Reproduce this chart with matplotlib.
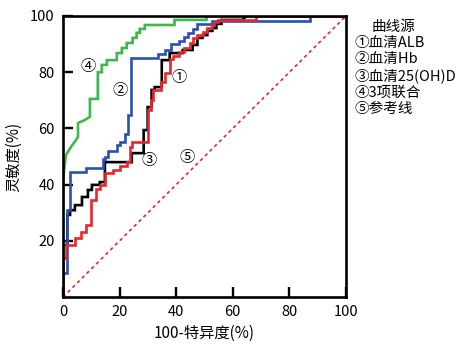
import matplotlib
import matplotlib.pyplot as plt

matplotlib.use('Agg')

plt.rcParams['font.family'] = ['Noto Sans CJK SC', 'DejaVu Sans']

# ROC staircase vertices (100-specificity, sensitivity)
alb_x = [0, 0, 1.5, 1.5, 2.5, 2.5, 4.2, 4.2, 6.7, 6.7, 8.8, 8.8, 10.2, 10.2, 13, 13, 14.8, 14.8,
         24.3, 24.3, 28.5, 28.5, 29.9, 29.9, 31.3, 31.3, 32.4, 32.4, 34.9, 34.9, 37.7, 37.7,
         42.3, 42.3, 45.8, 45.8, 47.5, 47.5, 49.3, 49.3, 51, 51, 52.8, 52.8, 54.2, 54.2, 56, 56,
         63.4, 64.8, 100]
alb_y = [0, 18.5, 18.5, 29.2, 29.2, 30.9, 30.9, 32.7, 32.7, 35.6, 35.6, 38.1, 38.1, 39.9, 39.9,
         40.9, 40.9, 48, 48, 51.2, 51.2, 59.4, 59.4, 67.6, 67.6, 73.7, 73.7, 74.7, 74.7, 84.3,
         84.3, 86.8, 86.8, 87.9, 87.9, 89.7, 89.7, 92.2, 92.2, 93.2, 93.2, 94.7, 94.7, 95.7,
         95.7, 97.2, 97.2, 98.6, 98.6, 100, 100]

hb_x = [0, 0, 1.4, 1.4, 2.5, 2.5, 8, 8, 14, 14, 15, 15, 16, 16, 19, 19, 20, 20, 22, 22, 22.8,
        22.8, 24, 24, 33.5, 33.5, 36, 36, 38, 38, 41, 41, 42.6, 42.6, 44, 44, 46, 46, 47.5, 47.5,
        52.5, 52.5, 87.3, 87.3, 100]
hb_y = [0, 8.5, 8.5, 31, 31, 44.5, 44.5, 46, 46, 49, 49, 50, 50, 52, 52, 54, 54, 55, 55, 58, 58,
        64.8, 64.8, 85, 85, 86.5, 86.5, 88, 88, 90, 90, 91, 91, 92.5, 92.5, 94, 94, 95.5, 95.5,
        97, 97, 98.2, 98.2, 100, 100]

vd_x = [0, 0, 1, 1, 4.2, 4.2, 6.3, 6.3, 8, 8, 9.9, 9.9, 11.6, 11.6, 13, 13, 14.8, 14.8, 17.6,
        17.6, 20, 20, 22.5, 22.5, 23.6, 23.6, 24.3, 24.3, 29.9, 29.9, 31, 31, 31.7, 31.7, 34.5,
        34.5, 36, 36, 37.7, 37.7, 38.7, 38.7, 41, 41, 42.9, 42.9, 44.7, 44.7, 45.8, 45.8, 47.5,
        47.5, 49.3, 49.3, 51, 51, 52.5, 52.5, 53.5, 53.5, 54.6, 54.6, 68.3, 68.3, 100]
vd_y = [0, 14, 14, 18.5, 18.5, 21, 21, 23, 23, 25.6, 25.6, 34.5, 34.5, 38.4, 38.4,
        39.9, 39.9, 44.1, 44.1, 45.2, 45.2, 46.6, 46.6, 48, 48, 53.4, 53.4, 55.2, 55.2, 66.5,
        66.5, 70.1, 70.1, 73.7, 73.7, 76.5, 76.5, 79.7, 79.7, 84.7, 84.7, 85.8, 85.8, 87.2,
        87.2, 88.6, 88.6, 90.4, 90.4, 92.2, 92.2, 93.2, 93.2, 94.3, 94.3, 95.7, 95.7, 96.8,
        96.8, 97.9, 97.9, 98.6, 98.6, 100, 100]

comb_x = [0, 0, 1, 2.8, 4.6, 5.3, 5.3, 7.7, 9.5, 9.5, 12.3, 12.3, 13.7, 13.7, 15.5, 15.5, 19, 19,
          20.8, 20.8, 22.5, 22.5, 24.6, 24.6, 26, 26, 27.1, 27.1, 28.9, 28.9, 39.4, 39.4, 50.7,
          50.7, 100]
comb_y = [0, 41.6, 50.5, 53.4, 55.9, 57, 61.9, 63, 64.1, 70.5, 70.5, 80, 80, 82.6, 82.6, 84.3,
          84.3, 86.8, 86.8, 88.6, 88.6, 90.4, 90.4, 92.2, 92.2, 94, 94, 95.4, 95.4, 96.8, 96.8,
          98.6, 98.6, 100, 100]

ticks = [0, 20, 40, 60, 80, 100]
legend_lines = ['①血清ALB', '②血清Hb', '③血清25(OH)D', '④3项联合', '⑤参考线']

red = '#e8262b'

fig = plt.figure(figsize=(4.61, 3.44), dpi=100)
ax = fig.add_axes([0.1367, 0.1366, 0.6138, 0.8169])

ax.plot(alb_x, alb_y, color='black', lw=1.9, solid_joinstyle='miter')
ax.plot(hb_x, hb_y, color='#2b4fb5', lw=1.9, solid_joinstyle='miter')
ax.plot(comb_x, comb_y, color='#3db84a', lw=1.9, solid_joinstyle='miter')
ax.plot(vd_x, vd_y, color=red, lw=1.9, solid_joinstyle='miter')
ax.plot([0, 100], [0, 100], color=red, lw=1.2, ls=(0, (2, 2)))

# curve labels
for txt, x, y in [('④', 9, 82), ('②', 20, 73.5), ('①', 41, 78), ('③', 30.6, 48.5), ('⑤', 44, 49.5)]:
    ax.text(x, y, txt, fontsize=11, ha='center', va='center')

ax.set_xlim(0, 100)
ax.set_ylim(0, 100)
ax.set_xticks(ticks)
ax.set_yticks(ticks[1:])
ax.tick_params(direction='in', length=7, width=1.7, labelsize=10.5, pad=6)
[s.set_linewidth(1.9) for s in ax.spines.values()]

ax.set_xlabel('100-特异度(%)', fontsize=11, labelpad=4)
ax.set_ylabel('灵敏度(%)', fontsize=11, labelpad=6)

# legend text block on the right
fig.text(372 / 461, 1 - 27 / 344, '曲线源', fontsize=10.5, va='center', ha='left')
for i, line in enumerate(legend_lines):
    fig.text(354 / 461, 1 - (43 + i * 16.5) / 344, line, fontsize=10.5, va='center', ha='left')

plt.savefig('out.png', dpi=100)
plt.close()
